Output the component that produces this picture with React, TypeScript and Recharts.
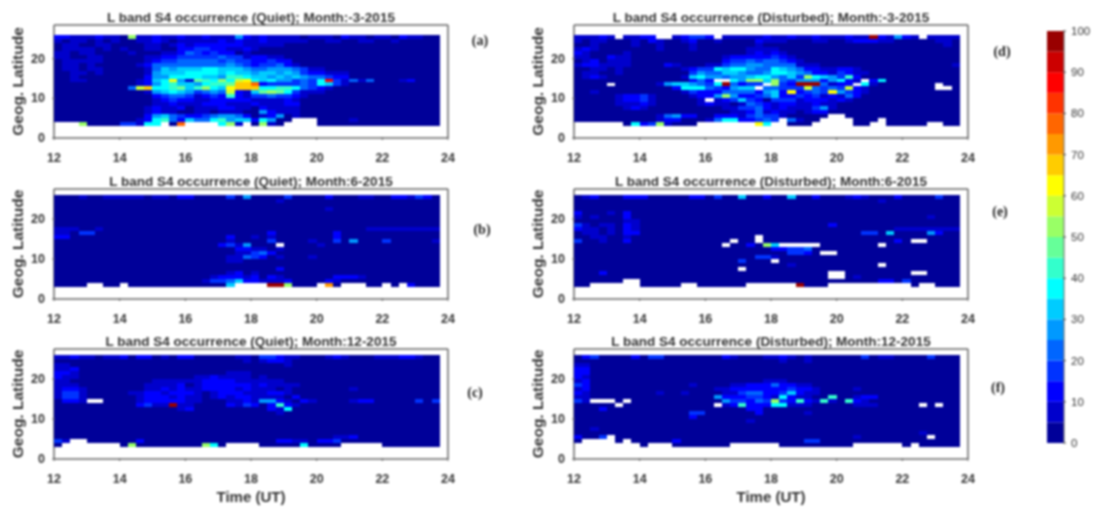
import React from "react";
import {
  BarChart,
  Bar,
  ScatterChart,
  Scatter,
  XAxis,
  YAxis,
  Label,
} from "recharts";

// one char per colour level (0-9, a-j = 0..19, each 5% wide), "." = no data
// rows run from lat 25 down to lat 3, columns every 15 min from 12 UT
const quietMar = [
  "22111211 0a112112 11211152 12111101 11021101 1021100",
  "10110101 00112101 11112121 12111110 01100110 0100000",
  "01100110 00011012 12222221 11110000 00000000 0000000",
  "01111010 10011002 23322112 10000000 00000000 0000000",
  "11011000 01000112 43232201 00000000 00000000 0000000",
  "11001100 00011223 33334331 22110000 00000000 0000000",
  "01111100 00012334 44443433 22322000 00000000 0000000",
  "01101000 00124444 44444543 23342100 00000000 0000000",
  "01101100 00014656 66776665 44555431 10000000 0000000",
  "00110100 00015666 77776766 56656532 21110000 0000000",
  "00100000 00025577 77665887 66565654 43220000 0000000",
  "00110000 001267c5 1987a7bc 76755343 7h314140 0012000",
  "00000000 00125786 657889dd f2333343 76310000 0000000",
  "00000000 04bd7789 68a76cdd d7788743 21000000 0000000",
  "00000000 00015676 53454b21 69a97311 10000000 0000000",
  "00000000 00002344 31232821 33433210 00000000 0000000",
  "00000000 00001232 21122222 11112100 00000000 0000000",
  "00000000 00001121 11222111 21112200 00000000 0000000",
  "00000000 00012112 01112211 02111100 00000000 0000000",
  "00000000 00012110 01101110 05211100 00000000 0000000",
  "00000000 00025643 22345542 01250100 00000000 0000000",
  "00000000 00127842 64478566 27500... 00001000 0000000",
  "...a0000 33177.0f ....7a1. 0a10.... 00000000 0000000",
];

const disturbedMar = [
  "11121.11 22..1233 2.111112 11211211 1211j215 21.1111",
  "10110001 02100120 01000021 11000110 01222110 0000110",
  "00100001 00100010 00000010 00000000 00000000 0000010",
  "12100000 00100010 00000111 10000000 00000000 0000000",
  "21000010 00000000 00000121 21000000 00000000 0000000",
  "11002110 00000000 00122222 32100000 00000000 0000000",
  "01201110 00000000 00233434 43210000 00000000 0000000",
  "12211110 00021000 11344554 44411100 00000000 0000001",
  "00110100 00000123 37677544 76542211 22100000 0000000",
  "01100100 00000035 44665445 77654221 32110000 0000000",
  "01210000 00000167 55455677 5463a765 38200000 0000000",
  "00000000 00000024 2..75aa6 a4355525 721.2700 0000000",
  "0000.000 00156654 37j4233. a32jjj41 22.71000 0000.00",
  "00000000 00002777 432566.4 4333b434 3b210000 0000..0",
  "00100000 00000132 22444425 62c2343c 53210000 0000000",
  "00000122 31000012 25a52234 62232312 14200000 0000000",
  "00000122 31000001 .1236320 33312221 21000000 0000000",
  "00000111 21000001 21101432 12211211 00000000 0000000",
  "00000012 10000000 00113342 12111351 00000000 0000000",
  "00000000 00000000 00011241 21101220 00000000 0000000",
  "00000000 00145220 02221343 3100000. .0000000 0000000",
  "00000000 00122000 14772234 3.4100.. ..000.00 0000000",
  "......07 23a1000. ......c7 ..000... ..00..00 000..00",
];

const quietJun = [
  "00010011 11101102 20000305 00003000 02000110 0221320",
  "00000000 00000000 00000000 00010000 00000000 0000000",
  "00000000 00000000 00000000 00000000 00000000 0000000",
  "00000000 00000000 00000000 00000000 01000000 0000000",
  "00000000 00000000 00000000 00000000 00000000 0000000",
  "00000000 00000000 00000000 00000000 00000000 0000000",
  "00000000 00000000 00000000 00000000 00000000 0000000",
  "00000000 00000000 00000000 00000000 00000000 0000000",
  "11100100 00000000 00000000 00000000 00000011 1111111",
  "11033000 00000000 00000000 00200000 00200000 0000000",
  "22000000 00000000 00000200 10100000 00200000 0000000",
  "00000000 00000000 00000100 00300001 00305000 3000001",
  "00000000 00000000 00002315 000.0000 10000000 0000000",
  "00000000 00000000 00000022 11010000 00000000 0000000",
  "00000000 00000000 00000011 34200000 00000000 0000000",
  "00000000 00000000 00000114 32010001 00000000 0000000",
  "00000000 00000000 00000110 00000000 00000000 0000000",
  "00000000 00000000 00000000 00000000 00000000 0000000",
  "00000000 00000000 00000000 00020000 00000000 0000000",
  "00000000 00000000 00000120 10000000 00000000 0000000",
  "00000000 00000000 00012221 20210000 00222100 0000000",
  "00000000 00000000 00133462 21112000 02100000 0000000",
  "0000..00 .0000000 000006.. ..jja000 .e0...00 .0.2000",
];

const disturbedJun = [
  "01200022 20000022 03006002 00600200 01210002 0000300",
  "00000000 00000000 00000000 00000000 00000100 0000000",
  "00000000 00000000 00000000 00000000 00000000 0000000",
  "00000000 00000000 00000000 00000000 00000000 0000000",
  "20001020 00000000 00000000 00000000 00000000 0000000",
  "10100020 00000000 00000000 00000000 00000000 0001000",
  "00000011 00000000 00000000 00000000 00000000 0000000",
  "31011021 00000000 00000000 00000002 00000000 0000000",
  "21101021 00000000 00000000 00000000 00000001 1111111",
  "01101022 00000000 00000000 00000000 00033060 0005200",
  "00110010 00000000 000000.0 00000000 00000000 0000000",
  "30010020 00000000 000.00.0 00000000 00000002 0..0000",
  "00000000 00000000 00.0020a 6.....00 00000.00 0000000",
  "00000000 00000000 00000000 22334000 00000000 0000000",
  "00000000 00000000 00000000 003320.. 00000000 0000000",
  "00000000 00000000 00000033 10000000 00000000 0000000",
  "00000000 00000000 00003000 .0000000 00000000 0000000",
  "00000000 00000000 00000000 00100000 00000.00 0000000",
  "00000000 00000000 0000.000 00000000 00000000 0000000",
  "00020000 00000000 00000000 0000000. .0000000 0..0000",
  "00000000 00000000 00000000 0000000. .0100000 0000000",
  "000000.. 00000000 00000000 00000000 00000220 3000000",
  "00...... 00000..0 00000... ...j000. ........ .0..000",
];

const quietDec = [
  "11211011 20220102 20000011 03321100 01210001 1122100",
  "00000000 00000000 00000001 01221000 00000000 0000000",
  "11000000 00000000 00000000 00001000 00000000 0000000",
  "11200000 00000000 00000000 00000000 00000000 0000000",
  "22100000 00000000 00000111 00000000 00000000 0000000",
  "21100000 00000000 01121111 01000000 00000000 0000000",
  "11000000 00001111 11222211 11110000 00000000 0000000",
  "11100000 00011112 01222222 12111100 00000000 0000000",
  "12210000 00011212 11222212 11101000 00001000 0000000",
  "13310000 01122122 21012221 11221000 00000000 0000000",
  "13310000 00122212 11012122 11110200 00000000 0000000",
  "0221..00 00122222 11000112 15521021 00001220 0000303",
  "00000000 002311j1 10000213 20282100 00000000 0000000",
  "00000000 00000001 20000000 00217000 00000000 0000000",
  "00000000 00000000 00000000 00010000 00000000 0000000",
  "00000000 00000000 00000000 00000000 00000000 0000000",
  "00000000 00000000 00000000 00000000 00000000 0000000",
  "00000000 00000000 00000000 00000000 00000000 0000000",
  "00000000 00000000 00000000 00000000 00000000 0000000",
  "00000000 00000000 00000000 00000000 00000000 0000000",
  "00000000 00000000 00000000 00000000 00112000 0000000",
  "31..0000 00200000 00000000 00022110 22300000 0000000",
  "0....... 0a000000 00a70... .0000070 000..... 0000000",
];

const disturbedDec = [
  "02300002 03300000 00210001 12101000 00030110 0003000",
  "00000000 00000000 00000000 01001000 00000000 0000000",
  "11000000 00000000 00000000 00000000 00000000 0000000",
  "22000000 00000000 00000000 00000000 00000000 0000000",
  "22000000 00000000 00000000 00000000 00000000 0000000",
  "21000000 00000000 00000000 00000000 00000000 0000000",
  "12000000 00000000 00000001 11000000 00000000 0000000",
  "32000000 00000010 00011222 42211000 00000000 0000000",
  "12000000 00000000 01122222 22322100 00100000 0000000",
  "21000000 00100100 00113442 23621100 00000000 0000000",
  "11000000 00000000 05222332 17211008 00122000 0000000",
  "31...0.0 00000000 00533243 a3282181 08210000 0000000",
  "00000.00 00000000 0.128222 77111000 00111000 00.0.00",
  "00020000 00000000 00000220 00000000 00000000 0000000",
  "00000000 00000033 00000020 00001000 00000000 0000000",
  "00000000 00000020 00000000 00000000 00000000 0000000",
  "00000000 00000000 00000100 00000000 00000000 0000000",
  "00000000 00000000 00000000 00000000 00000000 0000000",
  "00100000 00000000 00000000 00000000 00000000 0000000",
  "00000000 00000000 00000000 00000000 00000000 0010000",
  "2003.000 00000000 00000000 00000000 00100000 000.000",
  "0....0.0 00002000 00000000 00003300 00000000 0000000",
  "........ 0...0000 000..... .0000000 00...... 0.00000",
];

const JET = [
  "#000099", "#0000cc", "#0000ff", "#0033ff", "#0066ff",
  "#0099ff", "#00ccff", "#00ffff", "#33ffcc", "#66ff99",
  "#99ff66", "#ccff33", "#ffff00", "#ffcc00", "#ff9900",
  "#ff6600", "#ff3300", "#ff0000", "#cc0000", "#990000",
];

const HOUR_TICKS = [12, 14, 16, 18, 20, 22, 24];
const LAT_TICKS = [0, 10, 20];
const BAR_TICKS = [0, 10, 20, 30, 40, 50, 60, 70, 80, 90, 100];

const TOP_LAT = 25;
const PLOT_W = 395;
const FONT = "'Liberation Sans', Arial, sans-serif";
const FRAME = "#666";
const INK = "#333";

function toPoints(rows: string[]) {
  const points: { hour: number; lat: number; value: number }[] = [];
  rows.forEach((row, r) => {
    row
      .replace(/\s/g, "")
      .split("")
      .forEach((ch, c) => {
        if (ch === ".") return;
        points.push({
          hour: 12 + c * 0.25 + 0.125,
          lat: TOP_LAT - r + 0.5,
          value: parseInt(ch, 36) * 5 + 2.5,
        });
      });
  });
  return points;
}

const bottomTick = ({ x, y, payload }: any) => (
  <g>
    <line x1={x} x2={x} y1={y} y2={y - 3} stroke={FRAME} />
    <text x={x} y={y + 18} textAnchor="middle" dominantBaseline="central" fontSize={12.5} fontWeight="bold" fontFamily={FONT} fill={INK}>
      {payload.value}
    </text>
  </g>
);

const leftTick = ({ x, y, payload }: any) => (
  <g>
    <line x1={x} x2={x + 3} y1={y} y2={y} stroke={FRAME} />
    <text x={x - 7} y={y} textAnchor="end" dominantBaseline="central" fontSize={12.5} fontWeight="bold" fontFamily={FONT} fill={INK}>
      {payload.value}
    </text>
  </g>
);

const topTick = ({ x, y }: any) => <line x1={x} x2={x} y1={y} y2={y + 3} stroke={FRAME} />;
const rightTick = ({ x, y }: any) => <line x1={x} x2={x - 3} y1={y} y2={y} stroke={FRAME} />;

interface PanelProps {
  rows: string[];
  title: string;
  left: number;
  frameTop: number;
  frameH: number;
  yMax: number;
  showTime?: boolean;
}

function Panel({ rows, title, left, frameTop, frameH, yMax, showTime }: PanelProps) {
  const cellW = (PLOT_W / 12) * 0.25;
  const cellH = frameH / yMax;
  const CellRect = ({ cx, cy, payload }: any) => {
    const x = Math.round(cx - cellW / 2);
    const y = Math.round(cy - cellH / 2);
    return (
      <rect
        x={x}
        y={y}
        width={Math.round(cx + cellW / 2) - x}
        height={Math.round(cy + cellH / 2) - y}
        fill={JET[Math.floor(payload.value / 5)]}
        shapeRendering="crispEdges"
      />
    );
  };
  return (
    <div style={{ position: "absolute", left, top: frameTop - 24 }}>
      <ScatterChart
        width={470}
        height={frameH + 24 + 50}
        margin={{ top: 24, right: 21, bottom: 8, left: 24 }}
      >
        <XAxis
          xAxisId="time"
          dataKey="hour"
          type="number"
          domain={[12, 24]}
          ticks={HOUR_TICKS}
          height={42}
          tickSize={0}
          tickLine={false}
          tick={bottomTick}
          stroke={FRAME}
          strokeWidth={1.5}
          interval={0}
        >
          {showTime && (
            <Label
              value="Time (UT)"
              position="insideBottom"
              offset={-1}
              style={{ fontSize: 15, fontWeight: "bold", fontFamily: FONT, fill: INK }}
            />
          )}
        </XAxis>
        <XAxis
          xAxisId="top"
          orientation="top"
          dataKey="hour"
          type="number"
          domain={[12, 24]}
          ticks={HOUR_TICKS}
          height={1}
          tickSize={0}
          tickLine={false}
          tick={topTick}
          stroke={FRAME}
          strokeWidth={1.5}
          interval={0}
        >
          <Label
            value={title}
            position="top"
            offset={2}
            style={{ fontSize: 13.5, fontWeight: "bold", fontFamily: FONT, fill: INK }}
          />
        </XAxis>
        <YAxis
          yAxisId="lat"
          dataKey="lat"
          type="number"
          domain={[0, yMax]}
          ticks={LAT_TICKS}
          width={30}
          tickSize={0}
          tickLine={false}
          tick={leftTick}
          stroke={FRAME}
          strokeWidth={1.5}
          interval={0}
        >
          <Label
            value="Geog. Latitude"
            position="left"
            angle={-90}
            offset={7}
            style={{ fontSize: 15.5, fontWeight: "bold", fontFamily: FONT, fill: INK, textAnchor: "middle" }}
          />
        </YAxis>
        <YAxis
          yAxisId="right"
          orientation="right"
          dataKey="lat"
          type="number"
          domain={[0, yMax]}
          ticks={LAT_TICKS}
          width={1}
          tickSize={0}
          tickLine={false}
          tick={rightTick}
          stroke={FRAME}
          strokeWidth={1.5}
          interval={0}
        />
        <Scatter
          data={toPoints(rows)}
          xAxisId="time"
          yAxisId="lat"
          shape={CellRect}
          isAnimationActive={false}
        />
        {/* empty series so the mirrored frame axes get drawn */}
        <Scatter data={[]} xAxisId="top" yAxisId="right" isAnimationActive={false} />
      </ScatterChart>
    </div>
  );
}

const barData = [Object.fromEntries(JET.map((_, i) => [`level${i}`, 5]))];

const barTick = ({ x, y, payload }: any) => (
  <g>
    <line x1={x} x2={x - 3} y1={y} y2={y} stroke="#444" />
    <text x={x + 5} y={y} dominantBaseline="central" fontSize={11.5} fontFamily={FONT} fill={INK}>
      {payload.value}
    </text>
  </g>
);

function ColorBar() {
  return (
    <div style={{ position: "absolute", left: 1047, top: 20 }}>
      <BarChart
        width={47}
        height={435}
        data={barData}
        barCategoryGap={0}
        margin={{ top: 11, right: 0, bottom: 12, left: 0 }}
      >
        <XAxis hide />
        <YAxis
          orientation="right"
          type="number"
          domain={[0, 100]}
          ticks={BAR_TICKS}
          width={30}
          tickSize={0}
          tickLine={false}
          tick={barTick}
          stroke={FRAME}
          interval={0}
        />
        {JET.map((color, i) => (
          <Bar
            key={color}
            dataKey={`level${i}`}
            stackId="bar"
            fill={color}
            isAnimationActive={false}
          />
        ))}
      </BarChart>
    </div>
  );
}

const LETTERS = [
  { text: "(a)", x: 480, y: 41 },
  { text: "(b)", x: 482, y: 230 },
  { text: "(c)", x: 475, y: 393 },
  { text: "(d)", x: 1002, y: 52 },
  { text: "(e)", x: 1000, y: 212 },
  { text: "(f)", x: 998, y: 388 },
];

export default function App() {
  return (
    <div style={{ position: "absolute", left: 0, top: 0, width: 1094, height: 509, background: "#fff", overflow: "hidden", filter: "blur(0.8px)" }}>
      <Panel rows={quietMar} title="L band S4 occurrence (Quiet); Month:-3-2015" left={0} frameTop={24} frameH={114} yMax={28.5} />
      <Panel rows={quietJun} title="L band S4 occurrence (Quiet); Month:6-2015" left={0} frameTop={188} frameH={111} yMax={27.5} />
      <Panel rows={quietDec} title="L band S4 occurrence (Quiet); Month:12-2015" left={0} frameTop={348} frameH={111} yMax={27.5} showTime />
      <Panel rows={disturbedMar} title="L band S4 occurrence (Disturbed); Month:-3-2015" left={520} frameTop={24} frameH={114} yMax={28.5} />
      <Panel rows={disturbedJun} title="L band S4 occurrence (Disturbed); Month:6-2015" left={520} frameTop={188} frameH={111} yMax={27.5} />
      <Panel rows={disturbedDec} title="L band S4 occurrence (Disturbed); Month:12-2015" left={520} frameTop={348} frameH={111} yMax={27.5} showTime />
      <ColorBar />
      {LETTERS.map((l) => (
        <div
          key={l.text}
          style={{
            position: "absolute",
            left: l.x - 15,
            top: l.y - 9,
            width: 30,
            textAlign: "center",
            fontFamily: "'Liberation Serif', serif",
            fontWeight: "bold",
            fontSize: 14,
            lineHeight: "18px",
            color: "#222",
          }}
        >
          {l.text}
        </div>
      ))}
    </div>
  );
}
